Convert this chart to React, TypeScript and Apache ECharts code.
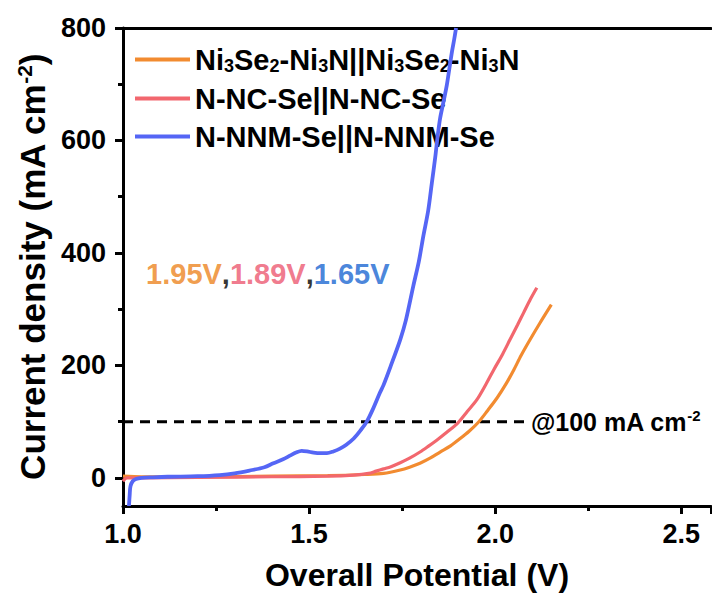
import React, { useEffect, useRef } from "react";
import * as echarts from "echarts";

const seriesNames = ["Ni3Se2-Ni3N||Ni3Se2-Ni3N", "N-NC-Se||N-NC-Se", "N-NNM-Se||N-NNM-Se"];
const seriesColors = ["#F28B30", "#F2676E", "#5566F5"];

const orangeData: [number, number][] = [
  [1.0, 3], [1.05, 2], [1.2, 2], [1.4, 3], [1.55, 4], [1.65, 6], [1.7, 8], [1.745, 14],
  [1.77, 19], [1.798, 26], [1.825, 35], [1.852, 46], [1.88, 57], [1.906, 70], [1.93, 83],
  [1.955, 99], [1.98, 120], [2.005, 142], [2.03, 168], [2.05, 192], [2.07, 218], [2.094, 246],
  [2.12, 275], [2.151, 308],
];

const pinkData: [number, number][] = [
  [1.0, -6], [1.005, -2], [1.01, 0], [1.05, 0], [1.2, 1], [1.4, 2], [1.55, 3], [1.62, 5],
  [1.66, 8], [1.68, 12], [1.7, 16], [1.72, 20], [1.745, 27], [1.77, 35], [1.798, 46],
  [1.82, 56], [1.843, 67], [1.87, 81], [1.9, 98], [1.925, 118], [1.951, 139], [1.975, 166],
  [1.996, 192], [2.02, 220], [2.04, 246], [2.06, 272], [2.076, 293], [2.095, 318], [2.112, 338],
];

const blueData: [number, number][] = [
  [1.016, -50], [1.018, -30], [1.02, -15], [1.026, -6], [1.035, -2], [1.05, 0], [1.08, 1],
  [1.12, 2], [1.2, 3], [1.26, 5], [1.3, 8], [1.34, 13], [1.38, 19], [1.404, 26], [1.43, 33],
  [1.45, 40], [1.465, 45], [1.48, 48], [1.495, 47], [1.512, 45], [1.53, 44], [1.548, 44],
  [1.565, 47], [1.583, 52], [1.6, 59], [1.62, 70], [1.64, 86], [1.655, 100], [1.67, 120],
  [1.69, 151], [1.7, 165], [1.72, 200], [1.745, 246], [1.76, 280], [1.78, 341], [1.795, 385],
  [1.807, 430], [1.82, 475], [1.83, 525], [1.839, 570], [1.845, 605], [1.852, 639],
  [1.86, 665], [1.87, 698], [1.877, 728], [1.884, 758], [1.89, 780], [1.895, 800],
];

const refLine: [number, number][] = [[1.0, 100], [2.08, 100]];
const refLabel = "@100 mA cm";
const annotPoint: [number, number] = [1.062, 362];
const annotValues = ["1.95V", "1.89V", "1.65V"];
const annotColors = ["#EC8420", "#EC5870", "#1A66D2"];

const yMajorTicks = [0, 200, 400, 600, 800];
const yMinorTicks = [100, 300, 500, 700];

const FONT = "'Liberation Sans', Arial, sans-serif";

function legendRich(name: string): string {
  let out = "";
  for (const ch of name) {
    if (/[0-9]/.test(ch)) out += `{s|${ch}}`;
    else out += `{n|${ch}}`;
  }
  return out;
}

export default function App() {
  const ref = useRef<HTMLDivElement>(null);
  useEffect(() => {
    if (!ref.current) return;
    const chart = echarts.init(ref.current, null, { renderer: "svg" });
    const dataSeries = [orangeData, pinkData, blueData];
    const option: any = {
      animation: false,
      backgroundColor: "#ffffff",
      grid: { left: 123, top: 28, right: 1, bottom: 98 },
      legend: {
        data: seriesNames,
        orient: "vertical",
        left: 130,
        top: 40,
        icon: "rect",
        itemWidth: 55,
        itemHeight: 4,
        itemGap: 9,
        selectedMode: false,
        formatter: (name: string) => legendRich(name),
        textStyle: {
          fontFamily: FONT,
          fontWeight: "bold",
          fontSize: 29,
          color: "#000",
          rich: {
            n: { fontFamily: FONT, fontWeight: "bold", fontSize: 29, lineHeight: 31, color: "#000" },
            s: { fontFamily: FONT, fontWeight: "bold", fontSize: 18, lineHeight: 16, verticalAlign: "bottom", color: "#000" },
          },
        },
      },
      xAxis: [
        {
          type: "value",
          min: 1.0,
          max: 2.58,
          interval: 0.5,
          name: "Overall Potential (V)",
          nameLocation: "middle",
          nameGap: 53,
          nameTextStyle: { fontFamily: FONT, fontWeight: "bold", fontSize: 32, color: "#000" },
          axisLine: { show: true, onZero: false, lineStyle: { color: "#000", width: 3 } },
          axisTick: { show: true, inside: false, length: 8, lineStyle: { color: "#000", width: 3 } },
          minorTick: { show: true, splitNumber: 2, length: 5, lineStyle: { color: "#000", width: 3 } },
          axisLabel: {
            margin: 14,
            fontFamily: FONT,
            fontWeight: "bold",
            fontSize: 27,
            color: "#000",
            formatter: (v: number) => v.toFixed(1),
            showMaxLabel: false,
          },
          splitLine: { show: false },
        },
        {
          type: "value",
          position: "top",
          min: 1.0,
          max: 2.58,
          axisLine: { show: true, onZero: false, lineStyle: { color: "#000", width: 3 } },
          axisTick: { show: false },
          axisLabel: { show: false },
          splitLine: { show: false },
        },
      ],
      yAxis: [
        {
          type: "value",
          min: -50,
          max: 800,
          name: "{a|Current density (mA cm}{s|-2}{a|)}",
          nameLocation: "middle",
          nameGap: 70,
          nameRotate: 90,
          nameTextStyle: {
            fontFamily: FONT,
            fontWeight: "bold",
            fontSize: 35,
            color: "#000",
            rich: {
              a: { fontFamily: FONT, fontWeight: "bold", fontSize: 35, lineHeight: 38, color: "#000" },
              s: { fontFamily: FONT, fontWeight: "bold", fontSize: 21, lineHeight: 21, verticalAlign: "top", color: "#000" },
            },
          },
          axisLine: { show: true, onZero: false, lineStyle: { color: "#000", width: 3 } },
          axisTick: { show: true, inside: false, length: 8, customValues: yMajorTicks, lineStyle: { color: "#000", width: 3 } },
          axisLabel: {
            margin: 17,
            customValues: yMajorTicks,
            fontFamily: FONT,
            fontWeight: "bold",
            fontSize: 27,
            color: "#000",
          },
          splitLine: { show: false },
        },
        {
          type: "value",
          min: -50,
          max: 800,
          position: "left",
          axisLine: { show: false },
          axisTick: { show: true, inside: false, length: 5, customValues: yMinorTicks, lineStyle: { color: "#000", width: 3 } },
          axisLabel: { show: false },
          splitLine: { show: false },
        },
      ],
      series: [
        ...seriesNames.map((name, i) => ({
          name,
          type: "line",
          data: dataSeries[i],
          showSymbol: false,
          symbol: "none",
          smooth: 0.3,
          clip: true,
          color: seriesColors[i],
          itemStyle: { color: seriesColors[i] },
          lineStyle: { color: seriesColors[i], width: i === 2 ? 3.8 : 3.2 },
          z: 3 + i,
        })),
        {
          name: "ref",
          type: "line",
          data: refLine,
          showSymbol: false,
          symbol: "none",
          lineStyle: { color: "#000", width: 3, type: [10, 7] },
          endLabel: {
            show: true,
            distance: 6,
            formatter: `{a|${refLabel}}{s|-2}`,
            rich: {
              a: { fontFamily: FONT, fontWeight: "bold", fontSize: 25, lineHeight: 28, color: "#000" },
              s: { fontFamily: FONT, fontWeight: "bold", fontSize: 15, lineHeight: 15, verticalAlign: "top", color: "#000" },
            },
          },
          z: 2,
        },
        {
          name: "annot",
          type: "scatter",
          data: [annotPoint],
          symbolSize: 0,
          label: {
            show: true,
            position: "right",
            distance: 0,
            formatter: annotValues.map((v, i) => `{c${i}|${v}}`).join("{k|,}"),
            rich: {
              c0: { fontFamily: FONT, fontWeight: "bold", fontSize: 29, color: annotColors[0] },
              c1: { fontFamily: FONT, fontWeight: "bold", fontSize: 29, color: annotColors[1] },
              c2: { fontFamily: FONT, fontWeight: "bold", fontSize: 29, color: annotColors[2] },
              k: { fontFamily: FONT, fontWeight: "bold", fontSize: 29, color: "#000" },
            },
          },
        },
      ],
    };
    chart.setOption(option);
    return () => chart.dispose();
  }, []);
  return (
    <div
      ref={ref}
      style={{ position: "absolute", left: 0, top: 0, width: 712, height: 604, background: "#fff" }}
    />
  );
}
